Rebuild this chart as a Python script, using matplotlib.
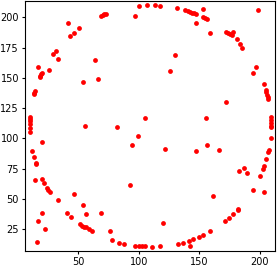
import matplotlib
matplotlib.use("Agg")
import matplotlib.pyplot as plt

# points, grouped roughly by region
x_ring = [100.0, 96.7, 68.5, 70.2, 71.5, 72.9, 41.7, 50.8, 46.7, 43.4,
          31.5, 29.3, 32.9, 16.9, 26.0, 20.2, 19.4, 18.5, 18.0,
          13.9, 13.3, 13.1, 10.3, 10.2, 10.1, 10.0, 10.0, 10.0,
          11.9, 13.6, 14.7, 15.2, 13.9, 16.9, 15.5,
          19.7, 20.0, 21.9, 24.3, 25.2, 26.6, 33.2, 40.6, 43.7,
          19.7, 22.2, 51.7, 52.8, 55.0, 56.4, 59.1, 61.1,
          76.0, 77.6, 84.0, 87.8, 96.7, 100.5, 102.5, 105.0, 111.0, 117.6,
          132.3, 136.6, 141.6, 142.7, 144.7, 149.7, 153.0, 159.0,
          171.4, 174.5, 178.1, 182.0, 182.3,
          194.4, 200.7, 202.6, 204.0, 205.6, 207.3, 207.6, 209.3,
          209.3, 209.3, 209.3, 209.4, 209.4,
          207.3, 207.0, 206.5, 205.6, 205.1, 203.5, 194.4, 197.1,
          185.8, 183.6, 181.4, 172.2, 173.9, 175.6, 177.2, 178.3,
          198.8, 159.3, 147.7, 153.2, 154.9, 156.5, 153.0,
          138.1, 140.8, 142.7, 144.4, 146.0, 147.4, 131.5,
          106.9, 113.7, 117.9]
y_ring = [209.6, 201.3, 201.1, 201.9, 202.5, 202.7, 195.5, 190.9, 187.3, 184.5,
          172.4, 169.4, 165.3, 158.9, 156.7, 154.2, 152.9, 151.5, 150.4,
          138.8, 137.7, 136.6, 117.4, 115.7, 114.2, 111.6, 108.3, 105.3,
          89.4, 84.3, 79.8, 78.8, 65.3, 31.6, 14.3,
          96.7, 66.4, 62.8, 58.7, 57.3, 55.4, 49.3, 38.5, 35.2,
          38.0, 24.8, 28.9, 27.8, 26.7, 26.4, 24.8, 23.4,
          23.6, 16.0, 13.7, 12.9, 11.0, 10.7, 10.7, 10.7, 10.5, 10.9,
          12.8, 13.6, 15.0, 10.9, 17.0, 18.7, 20.3, 23.6,
          31.9, 33.9, 37.7, 40.5, 41.3,
          57.5, 69.1, 74.4, 77.1, 82.6, 88.4, 90.3, 100.2,
          109.0, 109.8, 113.0, 115.2, 117.4,
          132.2, 134.1, 136.0, 138.3, 139.9, 144.9, 154.0, 158.7,
          174.9, 177.7, 182.3, 187.9, 187.0, 186.0, 185.4, 187.6,
          206.0, 187.3, 195.3, 200.0, 199.2, 198.3, 206.6,
          206.0, 205.2, 204.6, 203.8, 203.3, 202.7, 207.9,
          209.9, 209.9, 209.6]

x_inner = [64.1, 66.3, 54.1, 55.3, 81.8, 46.4, 53.9, 56.4, 68.8,
           99.5, 94.2, 92.5, 121.8, 147.4, 156.8, 166.5, 182.8, 186.9,
           189.9, 204.0, 161.3, 119.9, 105.0, 156.0, 172.0, 130.0, 126.2]
y_inner = [164.7, 148.8, 146.3, 110.2, 109.3, 54.2, 44.6, 37.7, 38.5,
           102.0, 94.5, 61.4, 91.4, 89.8, 94.2, 90.3, 73.2, 75.7,
           71.6, 55.9, 52.6, 30.3, 116.8, 116.5, 130.2, 168.8, 155.4]

fig = plt.figure(figsize=(2.77, 2.68), dpi=100)
ax = fig.add_axes([25 / 277, 17 / 268, 250 / 277, 250 / 268])

ax.scatter(x_ring + x_inner, y_ring + y_inner, s=12, color="red", linewidths=0)

ax.set_xlim(5.9, 212.8)
ax.set_ylim(6.9, 213.5)
ax.set_xticks([50, 100, 150, 200])
ax.set_yticks([25, 50, 75, 100, 125, 150, 175, 200])
ax.tick_params(labelsize=7, length=2.5, width=0.8, pad=1.8)

fig.savefig("out.png", dpi=100)
